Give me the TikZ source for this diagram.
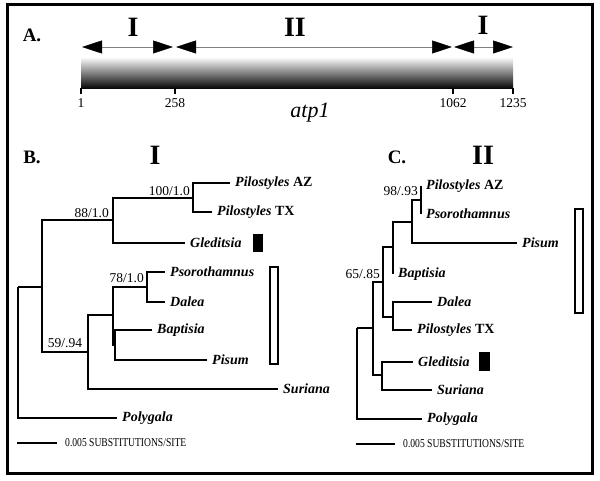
\documentclass[tikz,border=0pt]{standalone}
\usepackage{fontspec}
\setmainfont{Liberation Serif}
\usetikzlibrary{arrows.meta}
\usetikzlibrary{positioning}
\tikzset{>={Triangle[length=20pt,width=13pt,color=black]}}

\begin{document}
\begin{tikzpicture}[x=1pt,y=-1pt,
    branch/.style={line width=2.6pt},
    leaf/.style={anchor=west,inner xsep=5pt,inner ysep=0pt,font=\fontsize{14}{16}\selectfont\bfseries\itshape},
    supp/.style={inner sep=1pt,font=\fontsize{13.5}{15}\selectfont},
    panel/.style={font=\fontsize{19}{22}\selectfont\bfseries},
    roman/.style={font=\fontsize{28}{30}\selectfont\bfseries},
    scalebar/.style={anchor=west,inner sep=0pt,font=\fontsize{12}{13}\selectfont},
    openbox/.style={draw,line width=1.8pt,inner sep=0pt},
    blackbox/.style={fill=black,inner sep=0pt}]
    \useasboundingbox (0,0) rectangle (600,481);
    \draw[line width=3pt] (7,5) rectangle (592,473);

    % A: the gene and its regions
    \node[panel] (labA) at (32,35) {A.};
    \shade[top color=white,bottom color=black] (81,57) rectangle (513,89);
    \foreach \p/\t in {81/1,175/258,453/1062,513/1235}{
      \draw[line width=1.2pt] (\p,88) -- (\p,94);
      \node[font=\fontsize{13.5}{15}\selectfont] (tick\t) at (\p,103) {\t};
    }
    \node[font=\fontsize{22}{24}\selectfont\itshape] (gene) at (310,113) {atp1};
    \coordinate (a1) at (82,47);
    \coordinate (a2) at (173,47);
    \coordinate (a3) at (176,47);
    \coordinate (a4) at (452,47);
    \coordinate (a5) at (454,47);
    \coordinate (a6) at (513,47);
    \draw[<->,gray,line width=0.5pt] (a1) -- (a2);
    \draw[<->,gray,line width=0.5pt] (a3) -- (a4);
    \draw[<->,gray,line width=0.5pt] (a5) -- (a6);
    \node[roman] (regIa) at (133,27) {I};
    \node[roman] (regII) at (295,27) {II};
    \node[roman] (regIb) at (483,25) {I};

    % B: region I tree
    \node[panel] (labB) at (32,157) {B.};
    \node[roman] (romB) at (155,155) {I};
    \coordinate (bR) at (18,287);
    \coordinate (b2) at (42,287);
    \coordinate (bA) at (113,220);
    \coordinate (bP) at (193,198);
    \coordinate (b3) at (88,352);
    \coordinate (b4) at (113,315);
    \coordinate (b5) at (147,287);
    \coordinate (b6) at (115,345);
    \node[leaf] (bPilAZ) at (230,183) {Pilostyles \textup{AZ}};
    \node[leaf] (bPilTX) at (212,212) {Pilostyles \textup{TX}};
    \node[leaf] (bGled) at (185,243) {Gleditsia};
    \node[leaf] (bPsor) at (165,272) {Psorothamnus};
    \node[leaf] (bDal) at (165,302) {Dalea};
    \node[leaf] (bBap) at (152,330) {Baptisia};
    \node[leaf] (bPis) at (207,360) {Pisum};
    \node[leaf] (bSur) at (278,389) {Suriana};
    \node[leaf] (bPoly) at (117,418) {Polygala};
    \draw[branch] (bR) |- (b2);
    \draw[branch] (bR) |- (bPoly.west);
    \draw[branch] (b2) |- (bA);
    \draw[branch] (b2) |- (b3);
    \draw[branch] (bA) |- (bP);
    \draw[branch] (bA) |- (bGled.west);
    \draw[branch] (bP) |- (bPilAZ.west);
    \draw[branch] (bP) |- (bPilTX.west);
    \draw[branch] (b3) |- (b4);
    \draw[branch] (b3) |- (bSur.west);
    \draw[branch] (b4) |- (b5);
    \draw[branch] (b4) |- (b6);
    \draw[branch] (b5) |- (bPsor.west);
    \draw[branch] (b5) |- (bDal.west);
    \draw[branch] (b6) |- (bBap.west);
    \draw[branch] (b6) |- (bPis.west);
    \node[supp,anchor=south east] (s88) at (110,219) {88/1.0};
    \node[supp,anchor=south east] (s100) at (191,197) {100/1.0};
    \node[supp,anchor=east] (s78) at (145,278) {78/1.0};
    \node[supp] (s59) at (65,343) {59/.94};
    \node[blackbox,minimum width=10pt,minimum height=18pt] (bBlk) at (258,243) {};
    \node[openbox,minimum width=8pt,minimum height=97pt] (bOpen) at (274,315.5) {};
    \coordinate (bs0) at (17,443);
    \coordinate (bs1) at (57,443);
    \draw[branch] (bs0) -- (bs1);
    \node[scalebar] (bsl) at (65,443) {\scalebox{0.8}[1]{0.005 SUBSTITUTIONS/SITE}};

    % C: region II tree
    \node[panel] (labC) at (397,157) {C.};
    \node[roman] (romC) at (483,155) {II};
    \coordinate (cR) at (357,328);
    \coordinate (c2) at (373,328);
    \coordinate (c3) at (383,282);
    \coordinate (c4) at (393,247);
    \coordinate (c5) at (412,222);
    \coordinate (c6) at (421,200);
    \coordinate (c7) at (382,375);
    \coordinate (c8) at (393,317);
    \node[leaf] (cPilAZ) at (421,186) {Pilostyles \textup{AZ}};
    \node[leaf] (cPsor) at (421,214) {Psorothamnus};
    \node[leaf] (cPis) at (517,243) {Pisum};
    \node[leaf] (cBap) at (393,274) {Baptisia};
    \node[leaf] (cDal) at (432,302) {Dalea};
    \node[leaf] (cPilTX) at (412,330) {Pilostyles \textup{TX}};
    \node[leaf] (cGled) at (413,362) {Gleditsia};
    \node[leaf] (cSur) at (432,390) {Suriana};
    \node[leaf] (cPoly) at (422,419) {Polygala};
    \draw[branch] (cR) |- (c2);
    \draw[branch] (cR) |- (cPoly.west);
    \draw[branch] (c2) |- (c3);
    \draw[branch] (c2) |- (c7);
    \draw[branch] (c3) |- (c4);
    \draw[branch] (c3) |- (c8);
    \draw[branch] (c4) |- (c5);
    \draw[branch] (c4) |- (cBap.west);
    \draw[branch] (c5) |- (c6);
    \draw[branch] (c5) |- (cPis.west);
    \draw[branch] (c6) |- (cPilAZ.west);
    \draw[branch] (c6) |- (cPsor.west);
    \draw[branch] (c8) |- (cDal.west);
    \draw[branch] (c8) |- (cPilTX.west);
    \draw[branch] (c7) |- (cGled.west);
    \draw[branch] (c7) |- (cSur.west);
    \node[supp,anchor=east] (s98) at (419,191) {98/.93};
    \node[supp,anchor=east] (s65) at (381,274) {65/.85};
    \node[blackbox,minimum width=11pt,minimum height=19pt] (cBlk) at (484.5,361.5) {};
    \node[openbox,minimum width=8pt,minimum height=104pt] (cOpen) at (579,261) {};
    \coordinate (cs0) at (356,444);
    \coordinate (cs1) at (395,444);
    \draw[branch] (cs0) -- (cs1);
    \node[scalebar] (csl) at (403,444) {\scalebox{0.8}[1]{0.005 SUBSTITUTIONS/SITE}};
\end{tikzpicture}
\end{document}
